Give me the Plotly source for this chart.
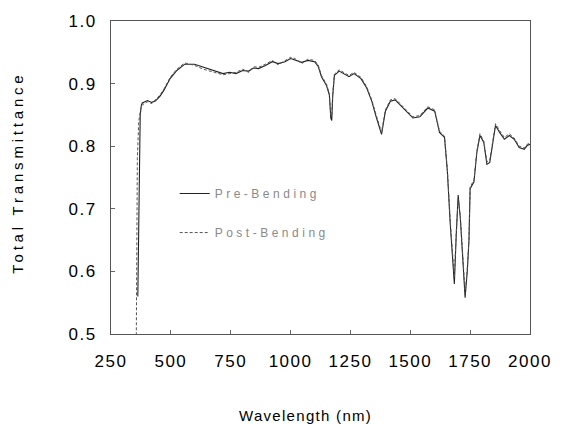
import plotly.graph_objects as go

# ---- data ----
wl_main = [381, 402, 420, 435, 455, 472, 497, 525, 558, 599, 636, 681, 718, 745, 772,
           800, 825, 845, 866, 895, 924, 948, 977, 1000, 1018, 1047, 1072, 1100, 1115,
           1129, 1150, 1162, 1168, 1172, 1176, 1183, 1203, 1224, 1244, 1265, 1294, 1318,
           1339, 1359, 1380, 1396, 1417, 1437, 1458, 1483, 1511, 1540, 1573, 1602, 1622,
           1643, 1655, 1667, 1684, 1692, 1700, 1709, 1721, 1729, 1738, 1745, 1750, 1766,
           1778, 1791, 1807, 1820, 1832, 1848, 1856, 1873, 1893, 1914, 1934, 1955, 1976,
           1988, 2000]
pre_main = [0.869, 0.873, 0.870, 0.872, 0.880, 0.890, 0.908, 0.921, 0.931, 0.931, 0.926,
            0.920, 0.916, 0.918, 0.916, 0.921, 0.920, 0.925, 0.924, 0.929, 0.935, 0.932,
            0.935, 0.940, 0.938, 0.934, 0.937, 0.935, 0.928, 0.911, 0.897, 0.882, 0.845,
            0.841, 0.880, 0.913, 0.920, 0.916, 0.911, 0.916, 0.908, 0.893, 0.872, 0.845,
            0.819, 0.856, 0.872, 0.874, 0.866, 0.856, 0.845, 0.847, 0.861, 0.856, 0.822,
            0.814, 0.759, 0.675, 0.580, 0.659, 0.722, 0.685, 0.606, 0.558, 0.600, 0.648,
            0.732, 0.743, 0.790, 0.817, 0.806, 0.771, 0.774, 0.817, 0.833, 0.822, 0.811,
            0.817, 0.811, 0.798, 0.795, 0.801, 0.803]
post_main = [0.866, 0.871, 0.868, 0.874, 0.882, 0.892, 0.910, 0.923, 0.933, 0.929, 0.923,
             0.918, 0.914, 0.916, 0.918, 0.923, 0.918, 0.927, 0.926, 0.931, 0.937, 0.930,
             0.937, 0.942, 0.940, 0.932, 0.939, 0.937, 0.930, 0.913, 0.899, 0.884, 0.850,
             0.848, 0.884, 0.915, 0.922, 0.918, 0.913, 0.918, 0.910, 0.895, 0.874, 0.848,
             0.822, 0.858, 0.874, 0.876, 0.868, 0.858, 0.847, 0.849, 0.863, 0.858, 0.824,
             0.816, 0.762, 0.680, 0.590, 0.662, 0.715, 0.688, 0.612, 0.565, 0.604, 0.652,
             0.735, 0.746, 0.792, 0.820, 0.808, 0.775, 0.778, 0.820, 0.836, 0.825, 0.814,
             0.820, 0.813, 0.800, 0.797, 0.803, 0.805]

# rising edge near 350-380 nm
wl_pre_start = [362, 368, 372, 377]
pre_start = [0.560, 0.800, 0.850, 0.866]
wl_post_start = [355, 357, 360, 366, 376]
post_start = [0.450, 0.600, 0.780, 0.840, 0.864]

wl_pre = wl_pre_start + wl_main
t_pre = pre_start + pre_main
wl_post = wl_post_start + wl_main
t_post = post_start + post_main

x_ticks = [250, 500, 750, 1000, 1250, 1500, 1750, 2000]
y_ticks = [0.5, 0.6, 0.7, 0.8, 0.9, 1.0]
series_names = ["Pre-Bending", "Post-Bending"]

FONT = "Liberation Sans, Arial, sans-serif"


def spaced(text, px):
    return f'<span style="letter-spacing:{px}px">{text}</span>'


fig = go.Figure()
fig.add_trace(go.Scatter(
    x=wl_pre, y=t_pre, mode="lines", name=spaced(series_names[0], 3.5),
    legendgroup="a", line=dict(color="#222222", width=1.1),
))
fig.add_trace(go.Scatter(
    x=wl_post, y=t_post, mode="lines", name=spaced(series_names[1], 3.5),
    legendgroup="b", line=dict(color="#555555", width=1, dash="3px,2px"),
))

axis_common = dict(
    showline=True, linecolor="#555555", linewidth=1, mirror=True,
    showgrid=False, zeroline=False, ticks="inside", ticklen=4,
    tickcolor="#666666", tickwidth=1,
    tickfont=dict(family=FONT, size=17, color="#000000"),
)

fig.update_layout(
    width=564, height=424,
    margin=dict(l=111, r=26, t=17, b=90),
    paper_bgcolor="white", plot_bgcolor="white",
    xaxis=dict(range=[250, 2000], tickvals=x_ticks,
               ticktext=[spaced(str(v), 1.5) for v in x_ticks],
               ticklabelstandoff=12, **axis_common),
    yaxis=dict(range=[0.5, 1.0], tickvals=y_ticks,
               ticktext=[spaced(f"{v:.1f}", 1.5) for v in y_ticks],
               ticklabelstandoff=10, **axis_common),
    legend=dict(x=0.152, y=0.495, xanchor="left", yanchor="top",
                bgcolor="rgba(0,0,0,0)", tracegroupgap=20,
                font=dict(family=FONT, size=12, color="#8a8a8a")),
    showlegend=True,
    annotations=[
        dict(text=spaced("Total Transmittance", 3.8), xref="paper", yref="paper",
             x=-0.222, y=0.515, textangle=-90, showarrow=False,
             xanchor="center", yanchor="middle",
             font=dict(family=FONT, size=15, color="#000000")),
        dict(text=spaced("Wavelength (nm)", 1.3), xref="paper", yref="paper",
             x=0.465, y=-0.26, showarrow=False, xanchor="center", yanchor="middle",
             font=dict(family=FONT, size=15, color="#000000")),
    ],
)

fig.write_html("out.html")
